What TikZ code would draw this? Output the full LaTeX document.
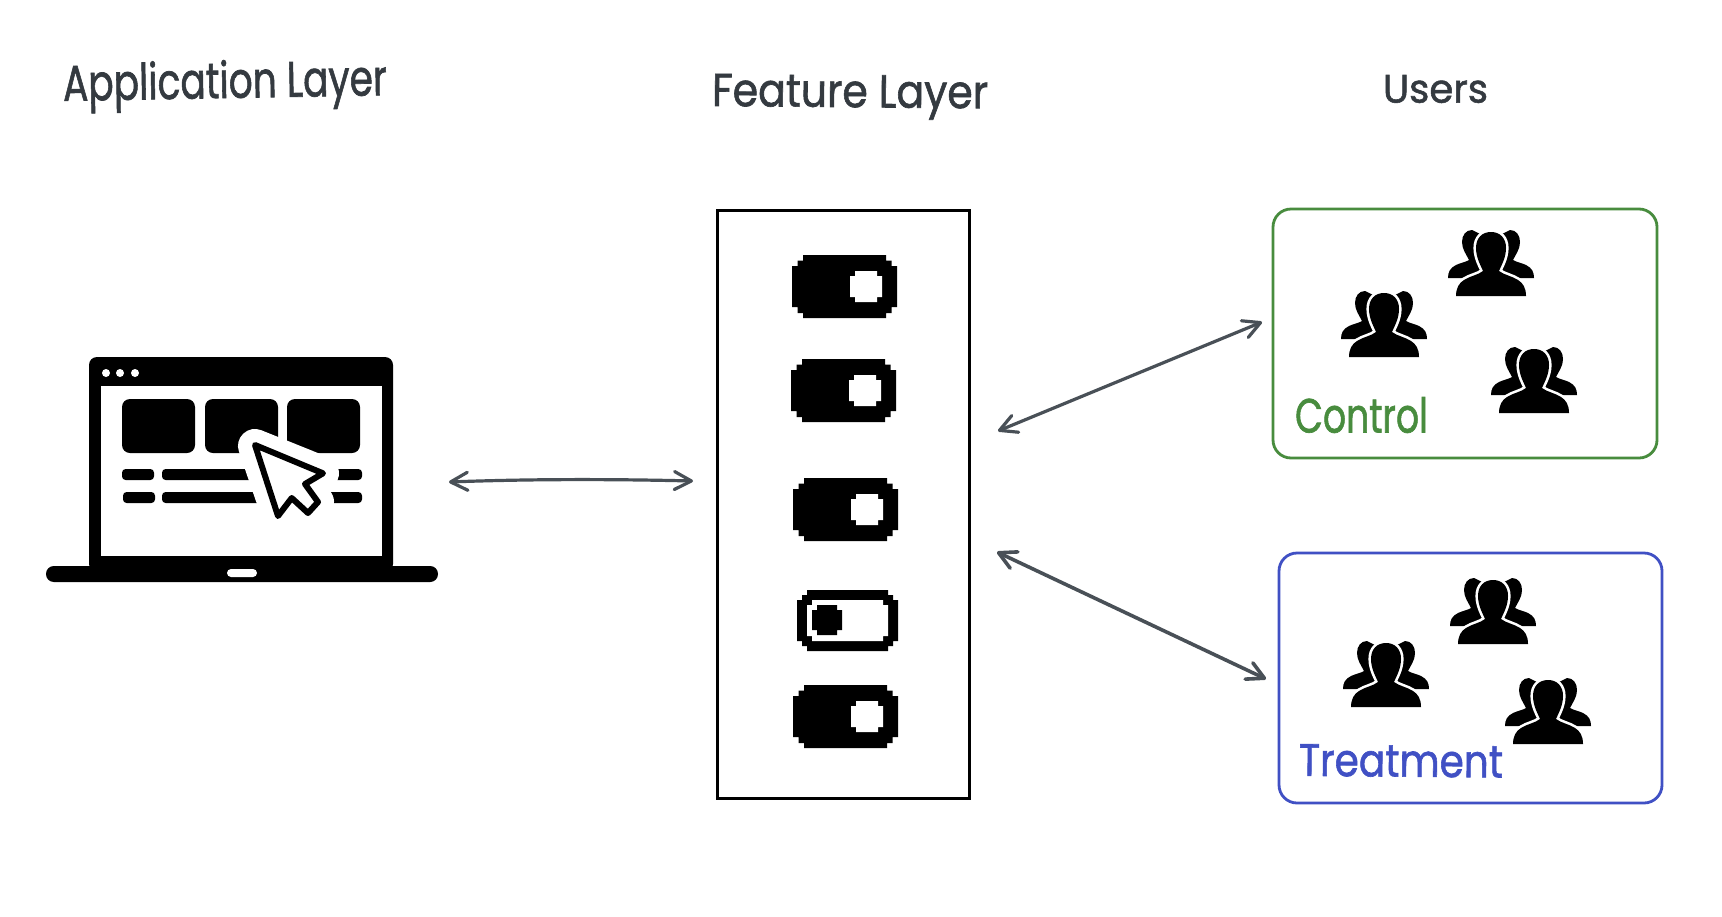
\documentclass[tikz,border=0pt]{standalone}
\usepackage{fontspec}
\usepackage{graphicx}
\setmainfont{Poppins}[FakeBold=1.4]
\usetikzlibrary{arrows.meta}
\definecolor{inkc}{RGB}{52,58,64}
\definecolor{connc}{RGB}{73,80,87}
\definecolor{greenc}{RGB}{72,140,62}
\definecolor{bluec}{RGB}{64,80,196}
\tikzset{
  x=0.5pt,y=-0.5pt,
  title/.style={inner sep=0pt,outer sep=0pt,text=inkc,anchor=center},
  panel/.style={draw,line width=1.4pt,rounded corners=9pt,inner sep=0pt,anchor=center},
  featurebox/.style={draw=black,line width=1.5pt,inner sep=0pt,anchor=center,minimum width=126pt,minimum height=294pt},
  conn/.style={draw=connc,line width=1.6pt,line cap=round,line join=round,
    {Straight Barb[round,length=8.5pt,width=9pt]}-{Straight Barb[round,length=8.5pt,width=9pt]}},
}
\newcommand{\mytoggle}[2]{%
  \begin{scope}[shift={(#1,#2)}]
    \fill[black] (11,0)--(94,0)--(94,5.5)--(99.5,5.5)--(99.5,11)--(105,11)--(105,52)--(99.5,52)--(99.5,58)--(94,58)--(94,63)--(11,63)--(11,58)--(5.5,58)--(5.5,52)--(0,52)--(0,11)--(5.5,11)--(5.5,5.5)--(11,5.5)--cycle;
    \fill[white] (63,16)--(85,16)--(85,21)--(90,21)--(90,42)--(85,42)--(85,47)--(63,47)--(63,42)--(58,42)--(58,21)--(63,21)--cycle;
  \end{scope}}
\newcommand{\myperson}[2]{%
  \begin{scope}[shift={(#1,#2)}]
    \fill[black] (-43,-18) .. controls (-43,-24) and (-41,-28) .. (-35,-31)
      .. controls (-31,-33) and (-25,-34) .. (-22,-36)
      .. controls (-25,-42) and (-29,-47) .. (-29,-54)
      .. controls (-29,-61) and (-25,-66) .. (-19,-66)
      -- (-11,-62) -- (11,-62)
      -- (19,-66) .. controls (25,-66) and (29,-61) .. (29,-54)
      .. controls (29,-47) and (25,-42) .. (22,-36)
      .. controls (25,-34) and (31,-33) .. (35,-31)
      .. controls (41,-28) and (43,-24) .. (43,-18) -- cycle;
    \fill[black,preaction={draw=white,line width=2.6pt,line join=round}]
      (-35,0) .. controls (-35,-8) and (-32,-13) .. (-27,-16)
      .. controls (-21,-20) and (-13,-21) .. (-8,-25)
      .. controls (-10,-30) and (-15,-38) .. (-15,-48)
      .. controls (-15,-58) and (-9,-64) .. (0,-64)
      .. controls (9,-64) and (15,-58) .. (15,-48)
      .. controls (15,-38) and (10,-30) .. (8,-25)
      .. controls (13,-21) and (21,-20) .. (27,-16)
      .. controls (32,-13) and (35,-8) .. (35,0) -- cycle;
  \end{scope}}
\begin{document}
\begin{tikzpicture}
\useasboundingbox (0,0) rectangle (1722,916);
\fill[white] (0,0) rectangle (1722,916);

% titles
\node[title,rotate=1] (tapp) at (225,85.5) {\resizebox*{162pt}{25.5pt}{Application Layer}};
\node[title,rotate=-0.5] (tfeat) at (850,97) {\resizebox*{138pt}{22pt}{Feature Layer}};
\node[title] (tusers) at (1435.5,89) {\resizebox*{52.5pt}{14pt}{Users}};

% laptop
\fill[black,rounded corners=4pt] (89,357) rectangle (393,572);
\fill[black,rounded corners=3.9pt] (46,566) rectangle (438,582);
\fill[white] (101,386) rectangle (382,556);
\fill[white,rounded corners=2pt] (227,569) rectangle (257,577);
\foreach \dx in {106,120,135}{\fill[white] (\dx,373) circle[radius=4];}
\foreach \tx in {122,205,287}{\fill[black,rounded corners=4pt] (\tx,399) rectangle ++(73,54);}
\fill[black,rounded corners=1.8pt] (122,469) rectangle (154,480);
\fill[black,rounded corners=1.8pt] (162,469) rectangle (262,480);
\fill[black,rounded corners=1.8pt] (330,469) rectangle (362,480);
\fill[black,rounded corners=1.8pt] (123,492) rectangle (155,503);
\fill[black,rounded corners=1.8pt] (162,492) rectangle (270,503);
\fill[black,rounded corners=1.8pt] (325,492) rectangle (362,503);
\draw[white,fill=white,line width=17pt,line join=round]
  (255,446)--(322,473)--(305,484)--(317,502)--(308,511)--(292,497)--(278,513)--cycle;
\draw[black,fill=white,line width=3pt,line join=round]
  (255,445)--(323,473.3)--(305,484)--(318,502)--(308,513)--(291.7,498)--(278,516)--cycle;

% feature layer
\node[featurebox] (feature) at (843,504) {};
\mytoggle{792}{255}
\mytoggle{791}{359}
\mytoggle{793}{478}
\begin{scope}[shift={(797,590)}]
  \fill[black] (10,0)--(91,0)--(91,5)--(96,5)--(96,10)--(101,10)--(101,51)--(96,51)--(96,56)--(91,56)--(91,61)--(10,61)--(10,56)--(5,56)--(5,51)--(0,51)--(0,10)--(5,10)--(5,5)--(10,5)--cycle;
  \fill[white] (15,10)--(86,10)--(86,15)--(91,15)--(91,46)--(86,46)--(86,51)--(15,51)--(15,46)--(10,46)--(10,15)--(15,15)--cycle;
  \fill[black] (20,15)--(40,15)--(40,20)--(45,20)--(45,40)--(40,40)--(40,45)--(20,45)--(20,40)--(15,40)--(15,20)--(20,20)--cycle;
\end{scope}
\mytoggle{793}{685}

% user panels
\node[panel,draw=greenc,minimum width=192pt,minimum height=124.5pt] (control) at (1465,333.5) {};
\node[panel,draw=bluec,minimum width=191.5pt,minimum height=125pt] (treatment) at (1470.5,678) {};
\myperson{1491}{296}
\myperson{1384}{357}
\myperson{1534}{413}
\myperson{1493}{644}
\myperson{1386}{707}
\myperson{1548}{744}
\node[title,text=greenc] (lcontrol) at (1361.5,415) {\resizebox*{66.5pt}{18pt}{Control}};
\node[title,text=bluec,rotate=-0.5] (ltreat) at (1401,761) {\resizebox*{102pt}{16pt}{Treatment}};

% connectors
\coordinate (appEnd) at (449,482);
\coordinate (featW) at (693,481);
\coordinate (featNE) at (998,431);
\coordinate (ctlEnd) at (1262,322);
\coordinate (featSE) at (997,552);
\coordinate (trtEnd) at (1266,679);
\draw[conn] (appEnd) .. controls (530,479) and (610,479) .. (featW);
\draw[conn] (featNE) -- (ctlEnd);
\draw[conn,line width=1.8pt] (featSE) -- (trtEnd);
\end{tikzpicture}
\end{document}
